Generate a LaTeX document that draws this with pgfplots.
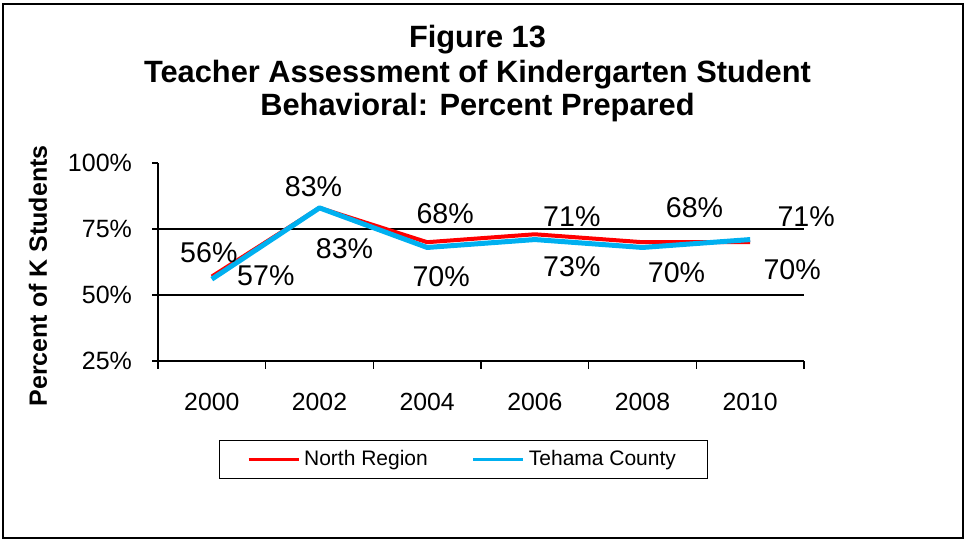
\documentclass[border=0pt]{standalone}
\usepackage{fontspec}
\setmainfont{Liberation Sans}
\usepackage{pgfplots}
\usepackage{pgfplotstable}
\pgfplotsset{compat=1.18}

\definecolor{northred}{HTML}{FF0000}
\definecolor{tehamablue}{HTML}{00B0F0}

% x = category index (2000..2010), y = percent, dx/dy = label offset in pt
\pgfplotstableread{
x y dx dy
0 57 27 0.5
1 83 12.5 -20.5
2 70 7 -17
3 73 18.5 -16
4 70 17 -15
5 70 21 -13.5
}\northdata

\pgfplotstableread{
x y dx dy
0 56 -1.5 13
1 83 -3 10.5
2 68 9 17
3 71 18.5 11.5
4 68 26 20
5 71 28 11.5
}\tehamadata

\begin{document}
\begin{tikzpicture}
\path[use as bounding box] (0pt,0pt) rectangle (487.5pt,-269.5pt);
\draw[line width=1pt] (1.5pt,-2pt) rectangle (481.5pt,-269pt);

\node[anchor=base, font=\fontsize{15.4}{18}\selectfont\bfseries] at (238.75pt,-24pt) {Figure 13};
\node[anchor=base, font=\fontsize{15.4}{18}\selectfont\bfseries] at (238.75pt,-41.3pt) {Teacher Assessment of Kindergarten Student};
\node[anchor=base, font=\fontsize{15.4}{18}\selectfont\bfseries] at (238.75pt,-57.8pt) {Behavioral: Percent Prepared};
\node[rotate=90, font=\fontsize{12.5}{15}\selectfont\bfseries] at (19pt,-138pt) {Percent of K Students};

\begin{axis}[
    at={(79pt,-180.5pt)}, anchor=south west,
    scale only axis, width=323pt, height=99pt,
    xmin=-0.5, xmax=5.5, ymin=25, ymax=100,
    axis lines=left,
    axis line style={-, line width=0.6pt},
    /pgf/number format/assume math mode=true,
    tick align=outside,
    major tick length=3pt, minor tick length=4pt,
    tick style={black, line width=0.6pt},
    xtick={0,...,5},
    xticklabels={2000,2002,2004,2006,2008,2010},
    major x tick style={draw=none},
    minor xtick={-0.5,0.5,...,5.5},
    xticklabel style={font=\fontsize{12.4}{14}\selectfont, yshift=-9.5pt},
    ytick={25,50,75,100},
    yticklabel={\pgfmathprintnumber{\tick}\%},
    yticklabel style={font=\fontsize{12.5}{14}\selectfont, xshift=-6.5pt},
    extra y ticks={50,75},
    extra y tick labels={},
    extra y tick style={grid=major, major grid style={black, line width=0.6pt}},
    nodes near coords={\pgfmathprintnumber{\pgfplotspointmeta}\%},
    visualization depends on={\thisrow{dx} \as \dx},
    visualization depends on={\thisrow{dy} \as \dy},
    every node near coord/.append style={font=\fontsize{14.3}{16}\selectfont, text=black, anchor=center, xshift=\dx pt, yshift=\dy pt},
    legend style={at={(0.473,-0.497)}, anchor=center, draw=black, line width=0.5pt,
        legend columns=2, font=\fontsize{10.5}{12}\selectfont,
        inner xsep=14pt, inner ysep=3pt,
        /tikz/every even column/.append style={column sep=20pt}},
    legend image code/.code={\draw[#1, line width=1.5pt] (0pt,0pt) -- (25pt,0pt);},
    clip=false,
]
\addplot[northred, line width=2pt, line join=round] table[x=x, y=y] {\northdata};
\addlegendentry{North Region}
\addplot[tehamablue, line width=2.5pt, line join=round] table[x=x, y=y] {\tehamadata};
\addlegendentry{Tehama County}
\end{axis}
\end{tikzpicture}
\end{document}
